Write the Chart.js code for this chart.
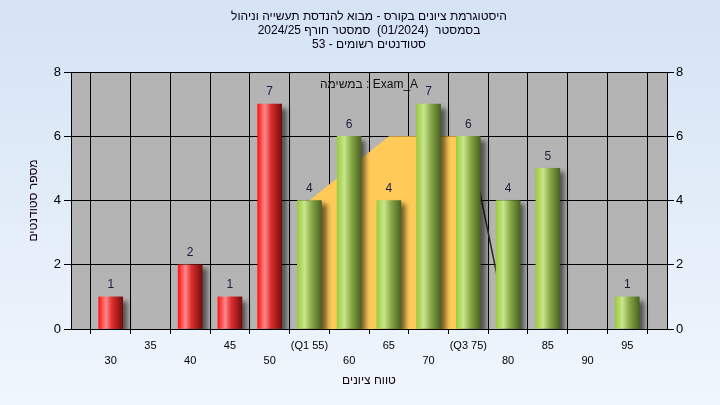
<!DOCTYPE html>
<html>
<head>
<meta charset="utf-8">
<script src="https://cdn.jsdelivr.net/npm/chart.js@4/dist/chart.umd.min.js"></script>
<style>
  html, body { margin: 0; padding: 0; }
  body { width: 720px; height: 405px; background: linear-gradient(#d5e3f5, #f0f6fd); }
  canvas { display: block; }
</style>
</head>
<body>
<canvas id="histChart" width="720" height="405"></canvas>
<script>
// grade bins and student counts
const grades = [30, 35, 40, 45, 50, 55, 60, 65, 70, 75, 80, 85, 90, 95];
const counts = [1, 0, 2, 1, 7, 4, 6, 4, 7, 6, 4, 5, 0, 1];
const quartileNames = { 55: "(Q1 55)", 75: "(Q3 75)" };
const passMark = 55;

// yellow band behind the bars and the thin slope line
const bandX = [53.5, 55, 65, 75];
const bandY = [2.8, 4, 6, 6];
const slopeX = [75, 80];
const slopeY = [6, 0];

const titleLines = [
  "היסטוגרמת ציונים בקורס - מבוא להנדסת תעשייה וניהול",
  "בסמסטר  (01/2024)  סמסטר חורף 2024/25",
  "סטודנטים רשומים - 53"
];
const examLabel = "במשימה : Exam_A";
const xTitle = "טווח ציונים";
const yTitle = "מספר סטודנטים";

const FONT = "'Liberation Sans', Arial, sans-serif";
const barWidth = 24;

function barGradient(c) {
  const chart = c.chart;
  const xs = chart.scales && chart.scales.x;
  const raw = c.raw;
  const red = raw && raw.x < passMark;
  if (!xs || !raw || !isFinite(xs.getPixelForValue(raw.x))) return red ? "#e02020" : "#98c048";
  const px = xs.getPixelForValue(raw.x);
  const g = chart.ctx.createLinearGradient(px - barWidth / 2, 0, px + barWidth / 2, 0);
  if (red) {
    g.addColorStop(0, "#ff1414");
    g.addColorStop(0.3, "#ff8a8a");
    g.addColorStop(0.55, "#de2e2e");
    g.addColorStop(1, "#760c0c");
  } else {
    g.addColorStop(0, "#9ccb3e");
    g.addColorStop(0.3, "#c8e68c");
    g.addColorStop(0.6, "#87a746");
    g.addColorStop(1, "#4a6322");
  }
  return g;
}

const plotBg = {
  id: "plotBg",
  beforeDraw(chart) {
    const { ctx, chartArea: a } = chart;
    ctx.save();
    ctx.fillStyle = "#b4b4b4";
    ctx.fillRect(a.left, a.top, a.width, a.height);
    ctx.restore();
  }
};

const barShadow = {
  id: "barShadow",
  beforeDatasetDraw(chart, args) {
    if (args.index !== 0) return;
    const ctx = chart.ctx;
    ctx.save();
    ctx.shadowColor = "rgba(0,0,0,0.55)";
    ctx.shadowBlur = 5;
    ctx.shadowOffsetX = 5;
    ctx.shadowOffsetY = 4;
  },
  afterDatasetDraw(chart, args) {
    if (args.index !== 0) return;
    chart.ctx.restore();
  }
};

const valueLabels = {
  id: "valueLabels",
  afterDatasetsDraw(chart) {
    const { ctx, chartArea: a } = chart;
    const meta = chart.getDatasetMeta(0);
    ctx.save();
    ctx.font = "12px " + FONT;
    ctx.fillStyle = "#1c1c3c";
    ctx.textAlign = "center";
    ctx.textBaseline = "middle";
    meta.data.forEach((bar, i) => {
      if (!counts[i]) return;
      ctx.fillText(String(counts[i]), bar.x, bar.y - 12);
    });
    // exam name inside plot
    ctx.fillStyle = "#101010";
    ctx.fillText(examLabel, (a.left + a.right) / 2, a.top + 13);
    ctx.restore();
  }
};

new Chart(document.getElementById("histChart"), {
  type: "bar",
  data: {
    datasets: [
      {
        type: "bar",
        data: grades.map((g, i) => ({ x: g, y: counts[i] || null })),
        backgroundColor: barGradient,
        borderWidth: 0,
        barThickness: barWidth,
        order: 0
      },
      {
        type: "line",
        data: bandX.map((x, i) => ({ x: x, y: bandY[i] })),
        borderWidth: 0,
        backgroundColor: "#ffca58",
        fill: "origin",
        pointRadius: 0,
        tension: 0,
        order: 2
      },
      {
        type: "line",
        data: slopeX.map((x, i) => ({ x: x, y: slopeY[i] })),
        borderColor: "#2a2a2a",
        borderWidth: 1.5,
        fill: false,
        pointRadius: 0,
        tension: 0,
        order: 1
      }
    ]
  },
  options: {
    responsive: false,
    animation: false,
    devicePixelRatio: 1,
    layout: { padding: 0 },
    plugins: {
      legend: { display: false },
      tooltip: { enabled: false },
      title: {
        display: true,
        fullSize: false,
        text: titleLines,
        color: "#000010",
        font: { family: FONT, size: 12, weight: "normal", lineHeight: "14px" },
        padding: { top: 10, bottom: 20 }
      }
    },
    scales: {
      x: {
        type: "linear",
        min: 25,
        max: 100,
        offset: false,
        afterFit: s => { s.height = 76; },
        border: { color: "#000", width: 1 },
        grid: { color: "#000", lineWidth: 1, tickLength: 5, tickColor: "#000" },
        ticks: {
          stepSize: 5,
          autoSkip: false,
          maxRotation: 0,
          padding: 4,
          color: "#000",
          font: { family: FONT, size: 11, lineHeight: "15px" },
          callback: v => {
            if (v <= 25 || v >= 100) return "";
            const name = quartileNames[v] || String(v);
            return (v / 5) % 2 === 1 ? name : ["", name];
          }
        },
        title: {
          display: true,
          text: xTitle,
          color: "#100010",
          font: { family: FONT, size: 12, lineHeight: "14px" },
          padding: { top: 4, bottom: 17 }
        }
      },
      y: {
        position: "left",
        min: 0,
        max: 8,
        afterFit: s => { s.width = 71; },
        border: { color: "#000", width: 1 },
        grid: { color: "#000", lineWidth: 1, tickLength: 7, tickColor: "#000" },
        ticks: { stepSize: 2, padding: 3, color: "#000", font: { family: FONT, size: 13 } },
        title: {
          display: true,
          text: yTitle,
          color: "#100010",
          font: { family: FONT, size: 12, lineHeight: "14px" },
          padding: { top: 27, bottom: 0 }
        }
      },
      y2: {
        position: "right",
        min: 0,
        max: 8,
        afterFit: s => { s.width = 53; },
        border: { color: "#000", width: 1 },
        grid: { drawOnChartArea: false, tickLength: 7, tickColor: "#000" },
        ticks: { stepSize: 2, padding: 2, color: "#000", font: { family: FONT, size: 13 } }
      }
    }
  },
  plugins: [plotBg, barShadow, valueLabels]
});
</script>
</body>
</html>
